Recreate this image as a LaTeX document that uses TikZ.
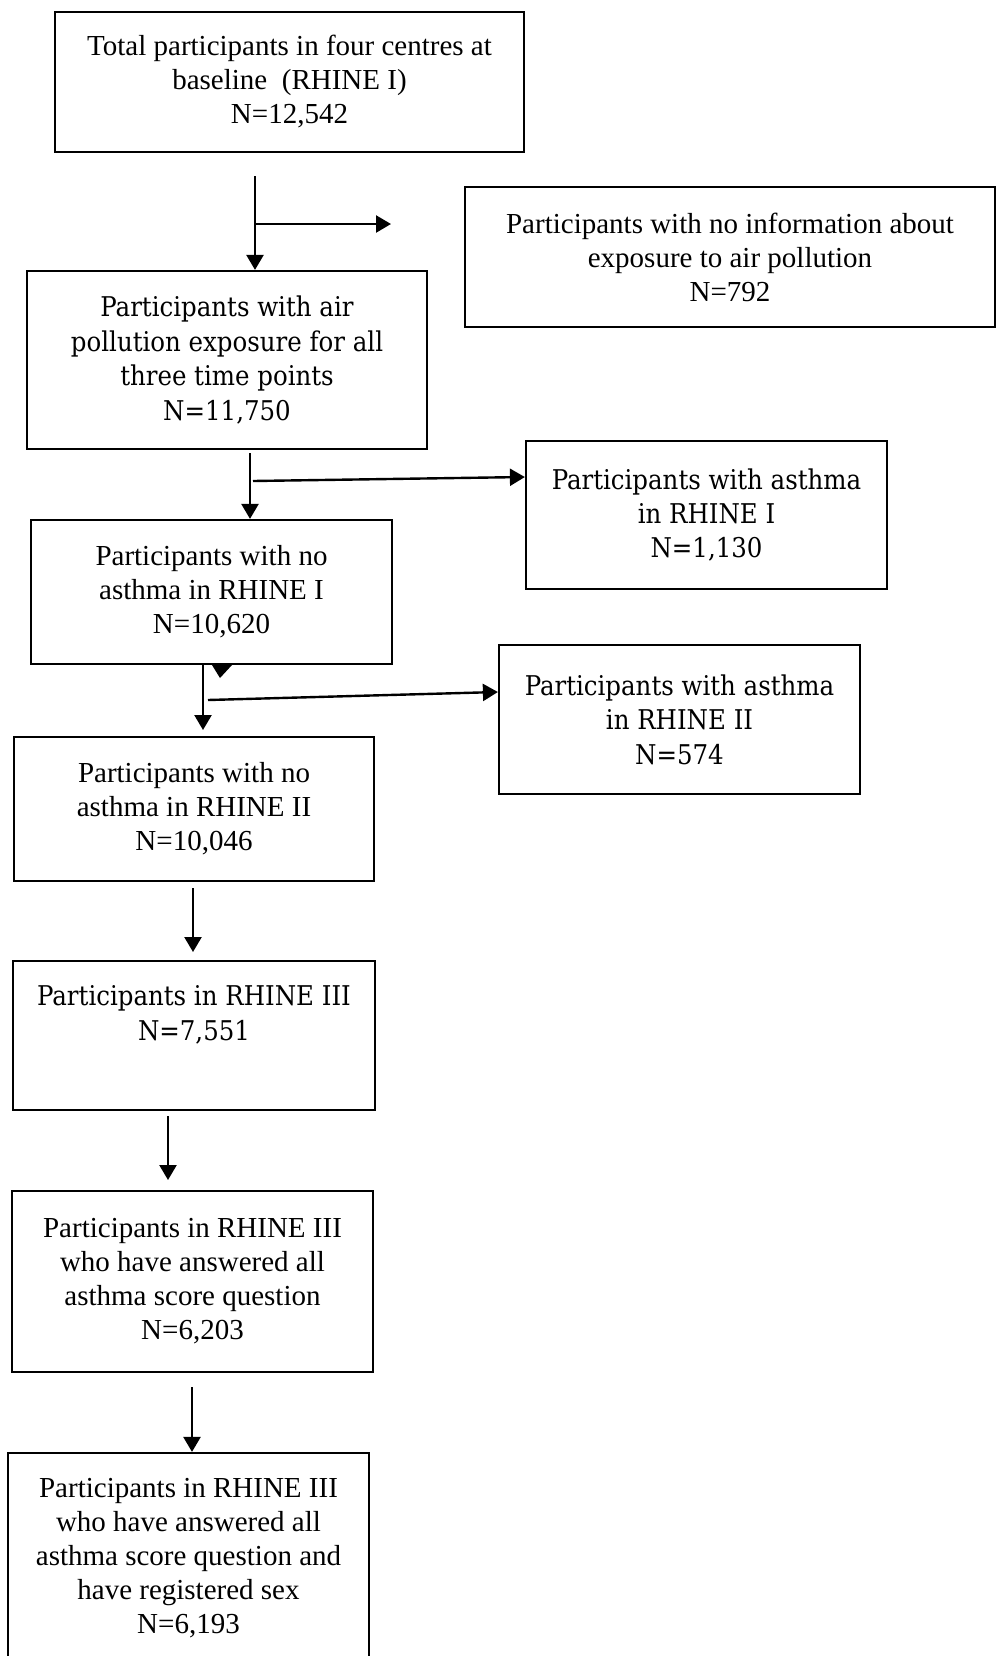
\documentclass[tikz,border=0pt]{standalone}
\usepackage{fontspec}
\setmainfont{Liberation Serif}
\newfontfamily\cambria{DejaVu Serif Condensed}
\usetikzlibrary{arrows.meta}

\tikzset{
    box/.style={draw, line width=1.1pt, align=center, inner sep=0pt, font=\fontsize{14.5}{17}\selectfont},
    cbox/.style={box, font=\cambria\fontsize{13.6}{17.2}\selectfont},
    flow/.style={line width=1.2pt, -{Triangle[length=7.5pt,width=8.5pt]}}
}

\begin{document}
\begin{tikzpicture}[x=0.5pt, y=-0.5pt]
    \useasboundingbox (0,0) rectangle (996,1656);
    \clip (0,0) rectangle (996,1656);

    % main column
    \node[box, minimum width=234.5pt, minimum height=70pt] (total) at (289.5,82)
        {Total participants in four centres at\\baseline~~(RHINE I)\\N=12,542};
    \node[cbox, minimum width=200pt, minimum height=89pt] (airpol) at (227,360)
        {Participants with air\\pollution exposure for all\\three time points\\N=11,750};
    \node[box, minimum width=180.5pt, minimum height=72pt] (noasthmaI) at (211.5,592)
        {Participants with no\\asthma in RHINE I\\N=10,620};
    \node[box, minimum width=180pt, minimum height=72pt] (noasthmaII) at (194,809)
        {Participants with no\\asthma in RHINE II\\N=10,046};
    \node[cbox, minimum width=181pt, minimum height=74.5pt] (rhineIII) at (194,1035.5)
        {Participants in RHINE III\\N=7,551\\\strut};
    \node[box, minimum width=180.5pt, minimum height=90.5pt] (answered) at (192.5,1281.5)
        {Participants in RHINE III\\who have answered all\\asthma score question\\N=6,203};
    \node[box, minimum width=180.5pt, minimum height=105pt] (registered) at (188.5,1558)
        {Participants in RHINE III\\who have answered all\\asthma score question and\\have registered sex\\N=6,193};

    % exclusions
    \node[box, minimum width=265pt, minimum height=70pt] (noinfo) at (730,257)
        {Participants with no information about\\exposure to air pollution\\N=792};
    \node[cbox, minimum width=180.5pt, minimum height=74pt] (asthmaI) at (706.5,515)
        {Participants with asthma\\in RHINE I\\N=1,130};
    \node[cbox, minimum width=180.5pt, minimum height=74.5pt] (asthmaII) at (679.5,719.5)
        {Participants with asthma\\in RHINE II\\N=574};

    % arrows
    \coordinate (s1) at (255,176);
    \coordinate (j1) at (255,224);
    \coordinate (e1) at (391,224);
    \draw[flow] (s1) -- (s1 |- airpol.north);
    \draw[flow] (j1) -- (e1);

    \coordinate (s2) at (250,453);
    \coordinate (j2) at (253,481);
    \draw[flow] (s2) -- (s2 |- noasthmaI.north);
    \draw[flow] (j2) -- (asthmaI.west |- 0,477);

    \fill (212,665) -- (232,665) -- (220,678) -- cycle;
    \coordinate (s3) at (203,664);
    \coordinate (j3) at (208,700);
    \draw[flow] (s3) -- (203,730);
    \draw[flow] (j3) -- (asthmaII.west |- 0,692);

    \coordinate (s4) at (193,888);
    \draw[flow] (s4) -- (193,952);
    \coordinate (s5) at (168,1116);
    \draw[flow] (s5) -- (168,1180);
    \coordinate (s6) at (192,1387);
    \draw[flow] (s6) -- (s6 |- registered.north);
\end{tikzpicture}
\end{document}
